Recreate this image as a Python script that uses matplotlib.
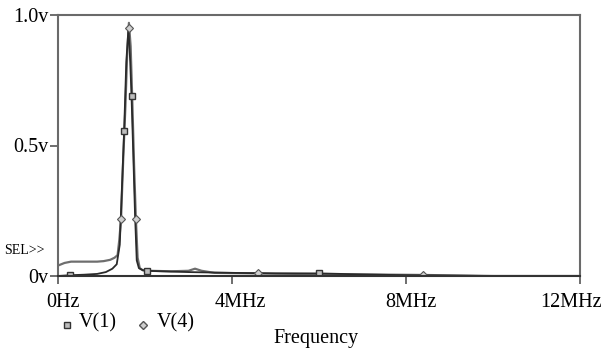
import matplotlib
matplotlib.use("Agg")
import matplotlib.pyplot as plt
import matplotlib.transforms as mtransforms
from matplotlib.lines import Line2D

# Frequency (MHz) and voltages
f1 = [0.0, 0.28, 0.6, 0.9, 1.1, 1.25, 1.35, 1.42, 1.47, 1.52, 1.57, 1.62, 1.66, 1.69, 1.73, 1.77, 1.81, 1.86, 1.95, 2.05, 2.4, 3.0, 4.0, 5.0, 6.0, 7.0, 8.0, 10.0, 12.0]
v1 = [0.0, 0.003, 0.005, 0.008, 0.015, 0.028, 0.045, 0.12, 0.34, 0.555, 0.82, 0.95, 0.82, 0.69, 0.47, 0.24, 0.06, 0.03, 0.022, 0.02, 0.018, 0.015, 0.012, 0.01, 0.01, 0.006, 0.003, 0.0, 0.0]
f4 = [0.0, 0.15, 0.3, 0.6, 0.9, 1.05, 1.2, 1.3, 1.37, 1.41, 1.45, 1.5, 1.55, 1.59, 1.63, 1.67, 1.71, 1.75, 1.79, 1.83, 1.88, 1.95, 2.1, 2.6, 3.0, 3.15, 3.3, 3.6, 4.6, 5.5, 6.5, 7.0, 8.4, 10.0, 12.0]
v4 = [0.04, 0.05, 0.055, 0.055, 0.055, 0.057, 0.062, 0.07, 0.08, 0.14, 0.22, 0.45, 0.65, 0.85, 0.97, 0.88, 0.66, 0.42, 0.22, 0.07, 0.03, 0.022, 0.02, 0.018, 0.02, 0.028, 0.02, 0.012, 0.01, 0.008, 0.006, 0.006, 0.004, 0.0, 0.0]

# marker positions
m1_f = [0.28, 1.52, 1.69, 2.05, 6.0]
m1_v = [0.003, 0.555, 0.69, 0.02, 0.01]
m4_f = [1.45, 1.63, 1.79, 4.6, 8.4]
m4_v = [0.22, 0.95, 0.22, 0.01, 0.004]

xticks = [0, 4, 8, 12]
xlabels = ["0Hz", "4MHz", "8MHz", "12MHz"]
yticks = [0, 0.5, 1.0]
ylabels = ["0v", "0.5v", "1.0v"]

plt.rcParams['font.family'] = ['Liberation Serif', 'DejaVu Serif']
FS = 14.5

fig = plt.figure(figsize=(6.08, 3.51), dpi=100)
ax = fig.add_axes([58/608, 1 - 276/351, (580-58)/608, (276-15)/351])

ax.plot(f4, v4, color='#6e6e6e', lw=1.6)
ax.plot(f1, v1, color='#2a2a2a', lw=1.3)
ax.plot(m1_f, m1_v, ls='none', marker='s', ms=5, mfc='#bdbdbd', mec='#333333', mew=1.0)
ax.plot(m4_f, m4_v, ls='none', marker='D', ms=4, mfc='#cfcfcf', mec='#555555', mew=0.8)

ax.set_xlim(0, 12)
ax.set_ylim(0, 1.0)
ax.set_xticks(xticks)
ax.set_xticklabels(xlabels, fontsize=FS)
ax.set_yticks(yticks)
ax.set_yticklabels(ylabels, fontsize=FS)
ax.tick_params(axis='both', direction='out', length=6, width=1.2, color='#555555')
ax.tick_params(axis='x', pad=6)
ax.tick_params(axis='y', pad=1)
for s in ax.spines.values():
    s.set_color('#6a6a6a')
    s.set_linewidth(1.5)
ax.spines['bottom'].set_color('#333333')

# small horizontal offsets of the x tick labels, as in the reference
for lab, dx in zip(ax.get_xticklabels(), [5, 8, 5, -9]):
    lab.set_transform(lab.get_transform() + mtransforms.ScaledTranslation(dx/100, 0, fig.dpi_scale_trans))

fig.text(4/608, 1 - 250/351, "SEL>>", fontsize=10, va='center', ha='left')
fig.text(316/608, 1 - 338/351, "Frequency", fontsize=FS, va='center', ha='center')

# legend
ly = 1 - 323/351
fig.add_artist(Line2D([67/608], [1 - 325/351], marker='s', ms=5, mfc='#bdbdbd', mec='#333333', ls='none', transform=fig.transFigure))
fig.text(79/608, ly, "V(1)", fontsize=FS, va='center', ha='left')
fig.add_artist(Line2D([143/608], [1 - 325/351], marker='D', ms=4, mfc='#cfcfcf', mec='#555555', ls='none', transform=fig.transFigure))
fig.text(157/608, ly, "V(4)", fontsize=FS, va='center', ha='left')

fig.savefig("out.png", dpi=100)
